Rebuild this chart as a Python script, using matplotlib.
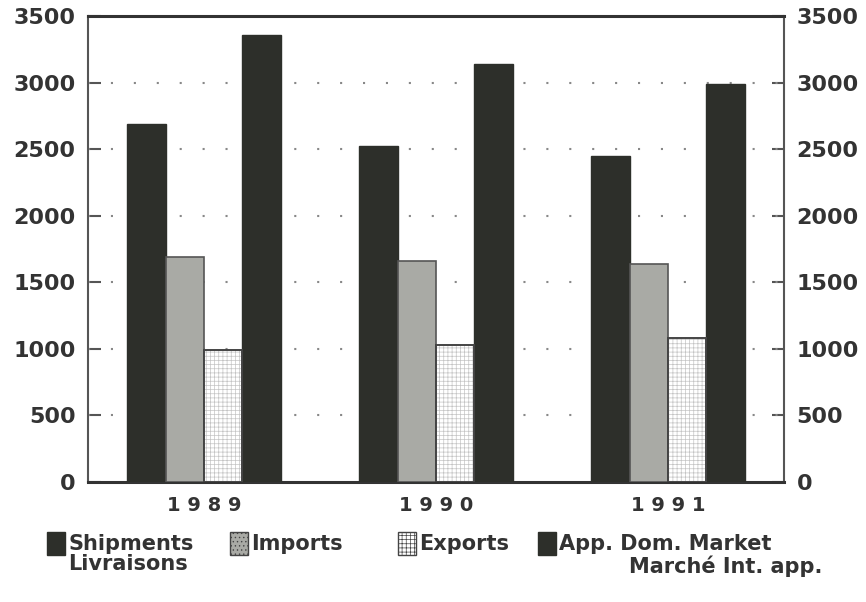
import matplotlib
matplotlib.use("Agg")
import matplotlib.pyplot as plt
import numpy as np
from matplotlib.patches import Rectangle

years = ["1989", "1990", "1991"]
shipments = [2690, 2525, 2450]
imports_ = [1690, 1660, 1640]
exports_ = [990, 1030, 1080]
app_dom = [3360, 3140, 2990]
yticks = [0, 500, 1000, 1500, 2000, 2500, 3000, 3500]

dark = "#2d2f2a"
gray = "#a9aaa5"
font = "DejaVu Sans"

fig = plt.figure(figsize=(8.66, 6.02), dpi=100)
fig.patch.set_facecolor("white")
ax = fig.add_axes([88/866, 1-482/602, (784-88)/866, (482-16)/602])

x = np.arange(len(years))
w = 0.165
ax.set_axisbelow(True)
ax.bar(x - 1.5*w, shipments, w, color=dark, edgecolor=dark, linewidth=1, zorder=3)
ax.bar(x - 0.5*w, imports_, w, color=gray, edgecolor="#555555", linewidth=1.2, zorder=3)
plt.rcParams["hatch.linewidth"] = 0.5
ax.bar(x + 0.5*w, exports_, w, color="white", edgecolor="#c4c4c4", hatch="++++", linewidth=0, zorder=3)
ax.bar(x + 0.5*w, exports_, w, fill=False, edgecolor="#444444", linewidth=1.4, zorder=4)
ax.bar(x + 1.5*w, app_dom, w, color=dark, edgecolor=dark, linewidth=1, zorder=3)

ax.set_xlim(-0.5, 2.5)
ax.set_ylim(0, 3500)
ax.set_yticks(yticks)
ax.set_yticklabels([str(v) for v in yticks], fontsize=16, fontweight="bold", family=font, color="#333333")
ax.set_xticks(x)
ax.set_xticklabels([" ".join(y) for y in years], fontsize=14, fontweight="bold", family=font, color="#333333")
ax.tick_params(axis="x", length=0, pad=10)
ax.tick_params(axis="y", direction="in", length=9, width=1.5, color="#555555", pad=9,
               right=True, labelright=True)
for v in yticks[1:-1]:
    ax.axhline(v, color="#888888", linestyle=(0, (1, 10)), linewidth=1.5, zorder=1)

for s in ["top", "bottom"]:
    ax.spines[s].set_linewidth(2.2)
    ax.spines[s].set_color("#333333")
for s in ["left", "right"]:
    ax.spines[s].set_linewidth(1.5)
    ax.spines[s].set_color("#555555")

# legend (drawn manually in figure pixels)
def px(xp, yp):
    return xp/866, 1-yp/602

items = [
    (47, dark, None, "Shipments"),
    (230, gray, "....", "Imports"),
    (398, "white", "++++", "Exports"),
    (538, dark, None, "App. Dom. Market"),
]
lfs = 15
for xp, fc, h, label in items:
    x0, y0 = px(xp, 555)
    r = Rectangle((x0, y0), 18/866, 23/602, transform=fig.transFigure,
                  facecolor=fc, edgecolor="#444444" if fc != dark else dark,
                  hatch=h, linewidth=1)
    fig.add_artist(r)
    tx, ty = px(xp + 21, 544)
    fig.text(tx, ty, label, fontsize=lfs, fontweight="bold", family=font, color="#333333",
             ha="left", va="center")
tx, ty = px(68, 564)
fig.text(tx, ty, "Livraisons", fontsize=lfs, fontweight="bold", family=font,
         color="#333333", ha="left", va="center")
tx, ty = px(822, 566)
fig.text(tx, ty, "Marché Int. app.", fontsize=lfs, fontweight="bold", family=font,
         color="#333333", ha="right", va="center")

fig.savefig("out.png", dpi=100, facecolor="white")
